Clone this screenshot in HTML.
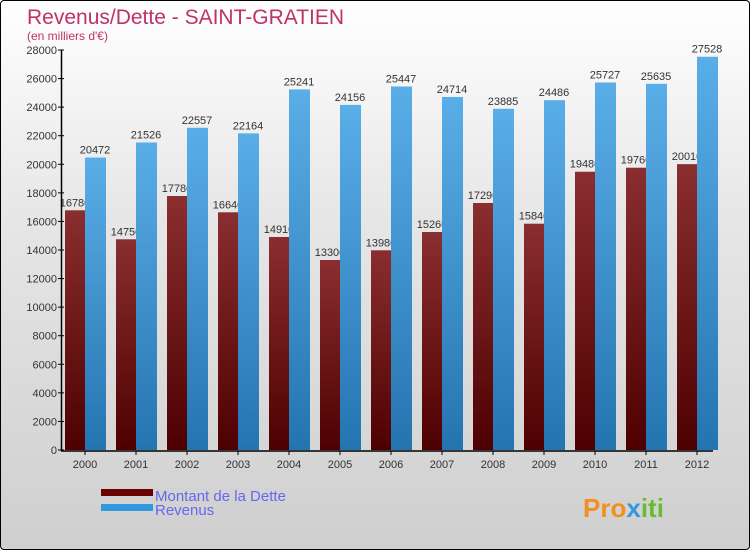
<!DOCTYPE html>
<html><head><meta charset="utf-8"><style>
body{margin:0}
#c{position:relative;width:748px;height:548px;border:1px solid #000;border-radius:4px;background:linear-gradient(#ffffff,#e6e6e6 40%,#cfcfcf);overflow:hidden;font-family:"Liberation Sans",sans-serif}
</style></head><body>
<div id="c">
<svg id="s" width="748" height="548" xmlns="http://www.w3.org/2000/svg">
<defs>
<linearGradient id="gr" x1="0" y1="0" x2="0" y2="1"><stop offset="0" stop-color="#8a2e30"/><stop offset="1" stop-color="#4e0000"/></linearGradient>
<linearGradient id="gb" x1="0" y1="0" x2="0" y2="1"><stop offset="0" stop-color="#5aaee8"/><stop offset="1" stop-color="#2474b0"/></linearGradient>
</defs>
<text x="26" y="23" font-size="21" fill="#c0306a">Revenus/Dette - SAINT-GRATIEN</text>
<text x="26" y="39" font-size="12" fill="#c0306a">(en milliers d'€)</text>
<g id="g"></g>
<rect x="100" y="488" width="52" height="7" fill="#6a0000"/>
<rect x="100" y="503" width="52" height="7" fill="#3399dd"/>
<text x="154" y="500" font-size="15" fill="#6666ee">Montant de la Dette</text>
<text x="154" y="514" font-size="15" fill="#6666ee">Revenus</text>
<text x="582" y="516" font-size="26" font-weight="bold" fill="#f09020">Pro<tspan fill="#3399dd">x</tspan><tspan fill="#66bb33">iti</tspan></text>
</svg></div>
<script>
const years=["2000","2001","2002","2003","2004","2005","2006","2007","2008","2009","2010","2011","2012"];
const debt=[16780,14750,17780,16640,14910,13300,13980,15260,17290,15840,19480,19760,20010];
const revenue=[20472,21526,22557,22164,25241,24156,25447,24714,23885,24486,25727,25635,27528];
const yTicks=[0,2000,4000,6000,8000,10000,12000,14000,16000,18000,20000,22000,24000,26000,28000];
const NS="http://www.w3.org/2000/svg",g=document.getElementById('g');
const y=v=>449-v*400/28000, xc=i=>84+i*51;
function el(t,a,txt){const e=document.createElementNS(NS,t);for(const k in a)e.setAttribute(k,a[k]);if(txt!=null)e.textContent=txt;g.appendChild(e);return e;}
yTicks.forEach(v=>{
 const t=el('text',{x:56,y:y(v)+4,'font-size':11,fill:'#333','text-anchor':'end'},v);
 
 
 el('line',{x1:57,x2:63,y1:y(v),y2:y(v),stroke:'#000'});
});
years.forEach((yr,i)=>{
 const r=el('rect',{x:xc(i)-20,y:y(debt[i]),width:20,height:y(0)-y(debt[i]),fill:'url(#gr)'});
 
 
 const lt=el('text',{x:xc(i)-10,y:y(debt[i])-4,'font-size':11,fill:'#333','text-anchor':'middle'},debt[i]);
 
 
});
years.forEach((yr,i)=>{
 const b=el('rect',{x:xc(i),y:y(revenue[i]),width:21,height:y(0)-y(revenue[i]),fill:'url(#gb)'});
 
 
 const lt=el('text',{x:xc(i)+10,y:y(revenue[i])-4,'font-size':11,fill:'#333','text-anchor':'middle'},revenue[i]);
 
 
 const xt=el('text',{x:xc(i),y:467,'font-size':11,fill:'#333','text-anchor':'middle'},yr);
 
 
 el('line',{x1:xc(i),x2:xc(i),y1:450,y2:454,stroke:'#000'});
});
el('line',{x1:60.5,x2:60.5,y1:49,y2:450,stroke:'#000','stroke-width':1.5});
el('line',{x1:60,x2:712,y1:450,y2:450,stroke:'#000','stroke-width':1.5});
</script>
</body></html>
